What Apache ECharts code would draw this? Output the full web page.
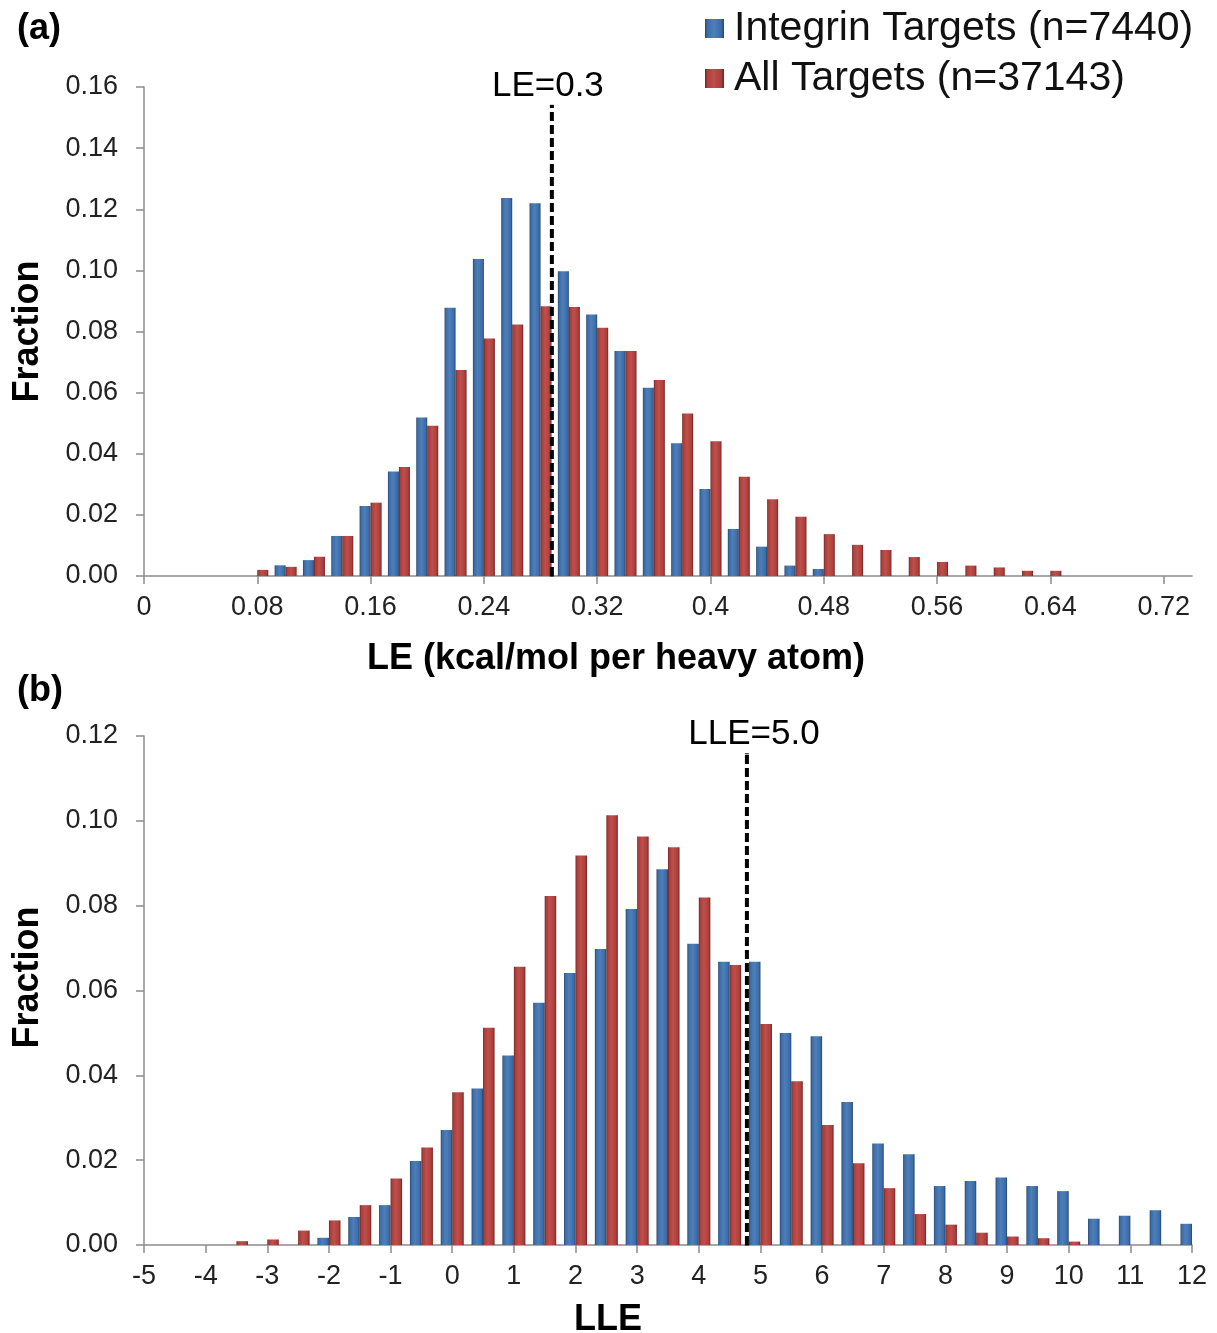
<!DOCTYPE html>
<html>
<head>
<meta charset="utf-8">
<script src="https://cdn.jsdelivr.net/npm/echarts@6/dist/echarts.min.js"></script>
<style>
  html, body { margin: 0; padding: 0; background: #fff; }
  #chart { width: 1217px; height: 1333px; }
</style>
</head>
<body>
<div id="chart"></div>
<script>
// ---------- Data ----------
// Panel (a): LE bins
var leCategories = ["0","0.02","0.04","0.06","0.08","0.1","0.12","0.14","0.16","0.18","0.2","0.22","0.24","0.26","0.28","0.3","0.32","0.34","0.36","0.38","0.4","0.42","0.44","0.46","0.48","0.5","0.52","0.54","0.56","0.58","0.6","0.62","0.64","0.66","0.68","0.7","0.72","0.74"];
var leIntegrin = [0,0,0,0,0,0.0035,0.0052,0.0131,0.0229,0.0342,0.0519,0.0878,0.1037,0.1237,0.122,0.0997,0.0856,0.0736,0.0616,0.0434,0.0285,0.0154,0.0096,0.0034,0.0023,0,0,0,0,0,0,0,0,0,0,0,0,0];
var leAll = [0,0,0,0,0.002,0.003,0.0063,0.0131,0.024,0.0357,0.0492,0.0674,0.0777,0.0823,0.0883,0.088,0.0812,0.0736,0.0641,0.0532,0.0441,0.0325,0.0251,0.0194,0.0137,0.0102,0.0085,0.0062,0.0046,0.0034,0.0028,0.0017,0.0017,0,0,0,0,0];
var leCutoff = 0.288;      // position of dashed line on the bin scale
var leCutoffTop = 0.154;   // height of the dashed line
var leCutoffLabel = "LE=0.3";

// Panel (b): LLE bins
var lleCategories = ["-5","-4.5","-4","-3.5","-3","-2.5","-2","-1.5","-1","-0.5","0","0.5","1","1.5","2","2.5","3","3.5","4","4.5","5","5.5","6","6.5","7","7.5","8","8.5","9","9.5","10","10.5","11","11.5","12"];
var lleIntegrin = [0,0,0,0,0,0,0.0017,0.0066,0.0094,0.0198,0.0271,0.0369,0.0447,0.0571,0.0641,0.0698,0.0792,0.0886,0.071,0.0668,0.0668,0.05,0.0492,0.0337,0.0239,0.0214,0.0139,0.0151,0.0159,0.0139,0.0127,0.0062,0.0069,0.0082,0.005];
var lleAll = [0,0,0,0.0009,0.0013,0.0034,0.0058,0.0094,0.0157,0.023,0.036,0.0512,0.0656,0.0823,0.0918,0.1013,0.0963,0.0938,0.0819,0.066,0.0521,0.0386,0.0283,0.0193,0.0134,0.0073,0.0048,0.0029,0.002,0.0016,0.0008,0,0,0,0];
var lleCutoff = 4.78;
var lleCutoffTop = 0.1158;
var lleCutoffLabel = "LLE=5.0";

var seriesNames = ["Integrin Targets (n=7440)", "All Targets (n=37143)"];
var panelLabels = ["(a)", "(b)"];
var axisTitles = { leX: "LE (kcal/mol per heavy atom)", lleX: "LLE", y: "Fraction" };

// ---------- Styles ----------
var FONT = "'Liberation Sans', Arial, sans-serif";
function grad(edge, mid, hi) {
  return new echarts.graphic.LinearGradient(0, 0, 1, 0, [
    { offset: 0, color: edge },
    { offset: 0.12, color: mid },
    { offset: 0.45, color: hi },
    { offset: 0.85, color: mid },
    { offset: 1, color: edge }
  ]);
}
var blueFill = grad('#24466f', '#3d6ca5', '#4d7fbb');
var redFill = grad('#6e2220', '#a93f3c', '#bf4f4b');

function nullZero(arr) { return arr.map(function (v) { return v === 0 ? null : v; }); }

var axisLineStyle = { color: '#8c8c8c', width: 1.5 };
var tickLabelStyle = { fontFamily: FONT, fontSize: 27, color: '#222' };
var titleStyle = { fontFamily: FONT, fontSize: 36, fontWeight: 'bold', color: '#000' };

var chart = echarts.init(document.getElementById('chart'), null, { renderer: 'canvas' });

var option = {
  animation: false,
  backgroundColor: '#fff',
  title: [
    { text: panelLabels[0], left: 12, top: 6, textStyle: { fontFamily: FONT, fontSize: 36, fontWeight: 'bold', color: '#000' } },
    { text: panelLabels[1], left: 12, top: 668, textStyle: { fontFamily: FONT, fontSize: 36, fontWeight: 'bold', color: '#000' } }
  ],
  legend: {
    orient: 'vertical',
    left: 700,
    top: 3,
    itemWidth: 19,
    itemHeight: 19,
    itemGap: 9,
    icon: 'rect',
    data: seriesNames,
    textStyle: { fontFamily: FONT, fontSize: 41, color: '#111', padding: [0, 0, 0, 5] }
  },
  grid: [
    { left: 144, right: 25, top: 87, bottom: 757, outerBoundsMode: 'none', containLabel: false },
    { left: 144, right: 25, top: 736, bottom: 88, outerBoundsMode: 'none', containLabel: false }
  ],
  xAxis: [
    {
      type: 'category', gridIndex: 0, data: leCategories, boundaryGap: false,
      axisLine: { lineStyle: axisLineStyle },
      axisTick: { interval: 3, length: 8, lineStyle: axisLineStyle },
      axisLabel: Object.assign({ interval: 3, margin: 18 }, tickLabelStyle),
      name: axisTitles.leX, nameLocation: 'middle', nameGap: 65,
      nameTextStyle: Object.assign({ padding: [0, 104, 0, 0] }, titleStyle),
      splitLine: { show: false }
    },
    {
      type: 'value', gridIndex: 0, min: 0, max: 0.74, show: false
    },
    {
      type: 'category', gridIndex: 1, data: lleCategories, boundaryGap: false,
      axisLine: { lineStyle: axisLineStyle },
      axisTick: { interval: 1, length: 8, lineStyle: axisLineStyle },
      axisLabel: Object.assign({ interval: 1, margin: 18 }, tickLabelStyle),
      name: axisTitles.lleX, nameLocation: 'middle', nameGap: 57,
      nameTextStyle: Object.assign({ padding: [0, 120, 0, 0] }, titleStyle),
      splitLine: { show: false }
    },
    {
      type: 'value', gridIndex: 1, min: -5, max: 12, show: false
    }
  ],
  yAxis: [
    {
      type: 'value', gridIndex: 0, min: 0, max: 0.16, interval: 0.02,
      axisLine: { show: true, onZero: false, lineStyle: axisLineStyle },
      axisTick: { show: true, length: 8, lineStyle: axisLineStyle },
      axisLabel: Object.assign({ margin: 26, formatter: function (v) { return v.toFixed(2); } }, tickLabelStyle),
      splitLine: { show: false },
      name: axisTitles.y, nameLocation: 'middle', nameGap: 98, nameRotate: 90,
      nameTextStyle: titleStyle
    },
    {
      type: 'value', gridIndex: 1, min: 0, max: 0.12, interval: 0.02,
      axisLine: { show: true, onZero: false, lineStyle: axisLineStyle },
      axisTick: { show: true, length: 8, lineStyle: axisLineStyle },
      axisLabel: Object.assign({ margin: 26, formatter: function (v) { return v.toFixed(2); } }, tickLabelStyle),
      splitLine: { show: false },
      name: axisTitles.y, nameLocation: 'middle', nameGap: 98, nameRotate: 90,
      nameTextStyle: Object.assign({ padding: [0, 0, 0, 26] }, titleStyle)
    }
  ],
  series: [
    {
      name: seriesNames[0], type: 'bar', xAxisIndex: 0, yAxisIndex: 0,
      data: nullZero(leIntegrin), barWidth: 11, barGap: '0%',
      itemStyle: { color: blueFill }
    },
    {
      name: seriesNames[1], type: 'bar', xAxisIndex: 0, yAxisIndex: 0,
      data: nullZero(leAll), barWidth: 11, barGap: '0%',
      itemStyle: { color: redFill }
    },
    {
      type: 'line', xAxisIndex: 1, yAxisIndex: 0,
      data: [[leCutoff, 0], { value: [leCutoff, leCutoffTop], label: { show: true, position: 'top', distance: 1, offset: [-4, 0], formatter: leCutoffLabel, fontFamily: FONT, fontSize: 35, color: '#000' } }],
      symbol: 'rect', symbolSize: [4, 1], itemStyle: { color: '#000' },
      lineStyle: { color: '#000', width: 4, type: [9, 4] },
      silent: true, z: 5
    },
    {
      name: seriesNames[0], type: 'bar', xAxisIndex: 2, yAxisIndex: 1,
      data: nullZero(lleIntegrin), barWidth: 11.5, barGap: '0%',
      itemStyle: { color: blueFill }
    },
    {
      name: seriesNames[1], type: 'bar', xAxisIndex: 2, yAxisIndex: 1,
      data: nullZero(lleAll), barWidth: 11.5, barGap: '0%',
      itemStyle: { color: redFill }
    },
    {
      type: 'line', xAxisIndex: 3, yAxisIndex: 1,
      data: [[lleCutoff, 0], { value: [lleCutoff, lleCutoffTop], label: { show: true, position: 'top', distance: 1, offset: [7, 0], formatter: lleCutoffLabel, fontFamily: FONT, fontSize: 35, color: '#000' } }],
      symbol: 'rect', symbolSize: [4, 1], itemStyle: { color: '#000' },
      lineStyle: { color: '#000', width: 4, type: [9, 4] },
      silent: true, z: 5
    }
  ]
};
chart.setOption(option);
</script>
</body>
</html>
